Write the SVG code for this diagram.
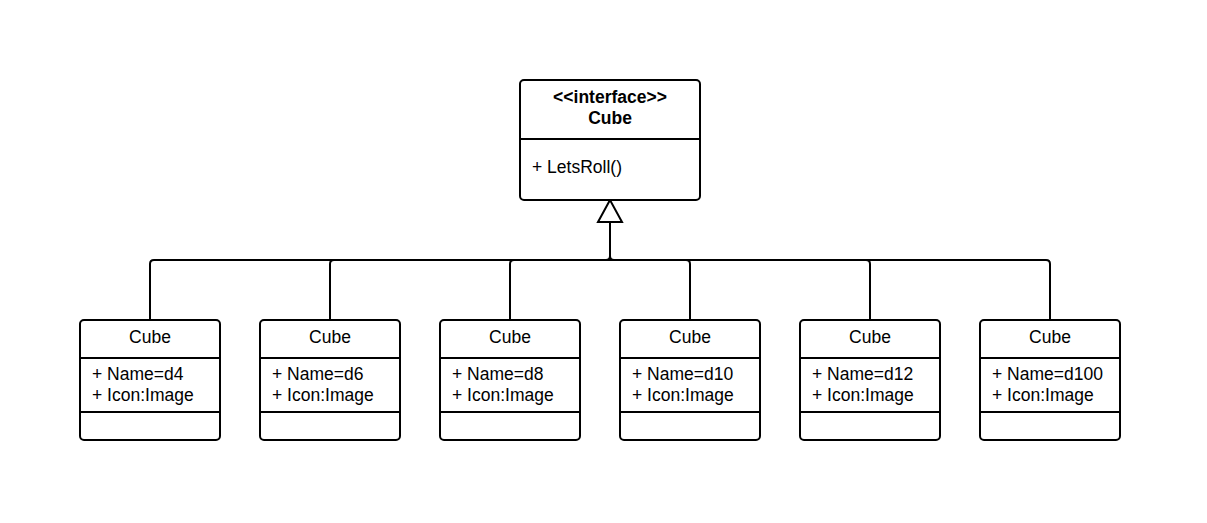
<svg xmlns="http://www.w3.org/2000/svg" width="1207" height="523" viewBox="0 0 1207 523">
<style>
.box{fill:#fff;stroke:#000;stroke-width:2}
.ln{fill:none;stroke:#000;stroke-width:2}
text{font-family:"Liberation Sans",Arial,sans-serif;font-size:17.5px;fill:#000}
.c{text-anchor:middle}
.b{font-weight:bold}
</style>
<rect width="1207" height="523" fill="#fff"/>
<g id="connectors">
<path class="ln" d="M150,320 V264 Q150,260 154,260 H1046 Q1050,260 1050,264 V320"/>
<path class="ln" d="M330,320 V264 Q330,260 334,260"/>
<path class="ln" d="M510,320 V264 Q510,260 514,260"/>
<path class="ln" d="M690,320 V264 Q690,260 686,260"/>
<path class="ln" d="M870,320 V264 Q870,260 866,260"/>
<path class="ln" d="M610,222 V256 Q610,260 606,260 M610,256 Q610,260 614,260"/>
<polygon class="box" points="610,200 598,222 622,222"/>
</g>
<g id="interface">
<rect class="box" x="520" y="80" width="180" height="120" rx="4"/>
<line class="ln" x1="520" y1="139" x2="700" y2="139"/>
<text class="c b" x="610" y="103">&lt;&lt;interface&gt;&gt;</text>
<text class="c b" x="610" y="124">Cube</text>
<text x="532" y="173">+ LetsRoll()</text>
</g>
<g id="d4">
<rect class="box" x="80" y="320" width="140" height="120" rx="4"/>
<line class="ln" x1="80" y1="358" x2="220" y2="358"/>
<line class="ln" x1="80" y1="412" x2="220" y2="412"/>
<text class="c" x="150" y="343">Cube</text>
<text x="92" y="380">+ Name=d4</text>
<text x="92" y="401">+ Icon:Image</text>
</g>
<g id="d6">
<rect class="box" x="260" y="320" width="140" height="120" rx="4"/>
<line class="ln" x1="260" y1="358" x2="400" y2="358"/>
<line class="ln" x1="260" y1="412" x2="400" y2="412"/>
<text class="c" x="330" y="343">Cube</text>
<text x="272" y="380">+ Name=d6</text>
<text x="272" y="401">+ Icon:Image</text>
</g>
<g id="d8">
<rect class="box" x="440" y="320" width="140" height="120" rx="4"/>
<line class="ln" x1="440" y1="358" x2="580" y2="358"/>
<line class="ln" x1="440" y1="412" x2="580" y2="412"/>
<text class="c" x="510" y="343">Cube</text>
<text x="452" y="380">+ Name=d8</text>
<text x="452" y="401">+ Icon:Image</text>
</g>
<g id="d10">
<rect class="box" x="620" y="320" width="140" height="120" rx="4"/>
<line class="ln" x1="620" y1="358" x2="760" y2="358"/>
<line class="ln" x1="620" y1="412" x2="760" y2="412"/>
<text class="c" x="690" y="343">Cube</text>
<text x="632" y="380">+ Name=d10</text>
<text x="632" y="401">+ Icon:Image</text>
</g>
<g id="d12">
<rect class="box" x="800" y="320" width="140" height="120" rx="4"/>
<line class="ln" x1="800" y1="358" x2="940" y2="358"/>
<line class="ln" x1="800" y1="412" x2="940" y2="412"/>
<text class="c" x="870" y="343">Cube</text>
<text x="812" y="380">+ Name=d12</text>
<text x="812" y="401">+ Icon:Image</text>
</g>
<g id="d100">
<rect class="box" x="980" y="320" width="140" height="120" rx="4"/>
<line class="ln" x1="980" y1="358" x2="1120" y2="358"/>
<line class="ln" x1="980" y1="412" x2="1120" y2="412"/>
<text class="c" x="1050" y="343">Cube</text>
<text x="992" y="380">+ Name=d100</text>
<text x="992" y="401">+ Icon:Image</text>
</g>
</svg>
